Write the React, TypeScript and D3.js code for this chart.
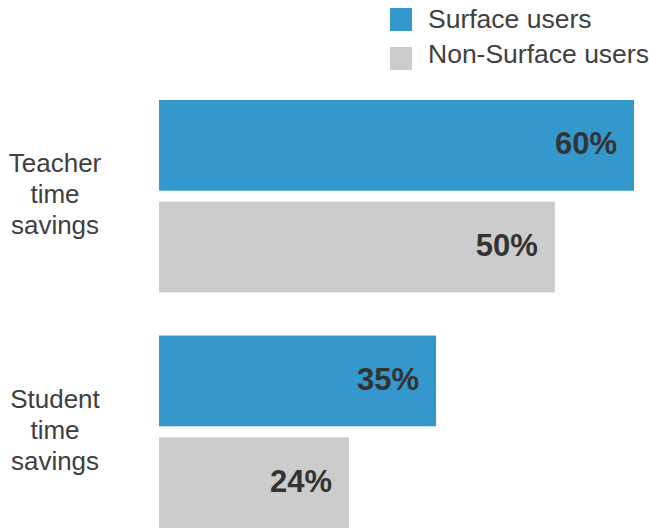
import React from 'react';
import * as d3 from 'd3';

const categories = ['Teacher time savings', 'Student time savings'];
const categoryLines = [
  ['Teacher', 'time', 'savings'],
  ['Student', 'time', 'savings'],
];
const seriesNames = ['Surface users', 'Non-Surface users'];
const surfaceValues = [60, 35];
const nonSurfaceValues = [50, 24];
const seriesColors = ['#3498cc', '#cccccc'];

const width = 649;
const height = 530;

const App: React.FC = () => {
  // x goes from 0% at the bars' left edge
  const x = d3.scaleLinear().domain([0, 60]).range([159, 634]);

  const y0 = d3
    .scaleBand<string>()
    .domain(categories)
    .range([100, 528])
    .paddingInner(0.183)
    .paddingOuter(0);

  const y1 = d3
    .scaleBand<string>()
    .domain(seriesNames)
    .range([0, y0.bandwidth()])
    .paddingInner(0.108);

  const values = [surfaceValues, nonSurfaceValues];

  return (
    <svg
      width={width}
      height={height}
      style={{ position: 'absolute', left: 0, top: 0 }}
      fontFamily="'Liberation Sans', Arial, sans-serif"
    >
      <rect width={width} height={height} fill="#fff" />

      {/* legend */}
      {seriesNames.map((name, i) => (
        <g key={name}>
          <rect x={390} y={8 + i * 39} width={22} height={23} fill={seriesColors[i]} />
          <text x={428} y={28 + i * 35} fontSize={26.5} fill="#404040">
            {name}
          </text>
        </g>
      ))}

      {categories.map((cat, ci) => {
        const gy = y0(cat) ?? 0;
        const mid = gy + y0.bandwidth() / 2;
        return (
          <g key={cat}>
            {categoryLines[ci].map((line, li) => (
              <text
                key={li}
                x={55}
                y={mid + 7 + (li - 1) * 31}
                textAnchor="middle"
                fontSize={26}
                fill="#404040"
              >
                {line}
              </text>
            ))}
            {seriesNames.map((s, si) => {
              const v = values[si][ci];
              const by = gy + (y1(s) ?? 0);
              return (
                <g key={s}>
                  <rect
                    x={x(0)}
                    y={by}
                    width={x(v) - x(0)}
                    height={y1.bandwidth()}
                    fill={seriesColors[si]}
                  />
                  <text
                    x={x(v) - 17}
                    y={by + y1.bandwidth() / 2 + 9}
                    textAnchor="end"
                    fontSize={31}
                    fontWeight="bold"
                    fill="#333"
                  >
                    {v}%
                  </text>
                </g>
              );
            })}
          </g>
        );
      })}
    </svg>
  );
};

export default App;
